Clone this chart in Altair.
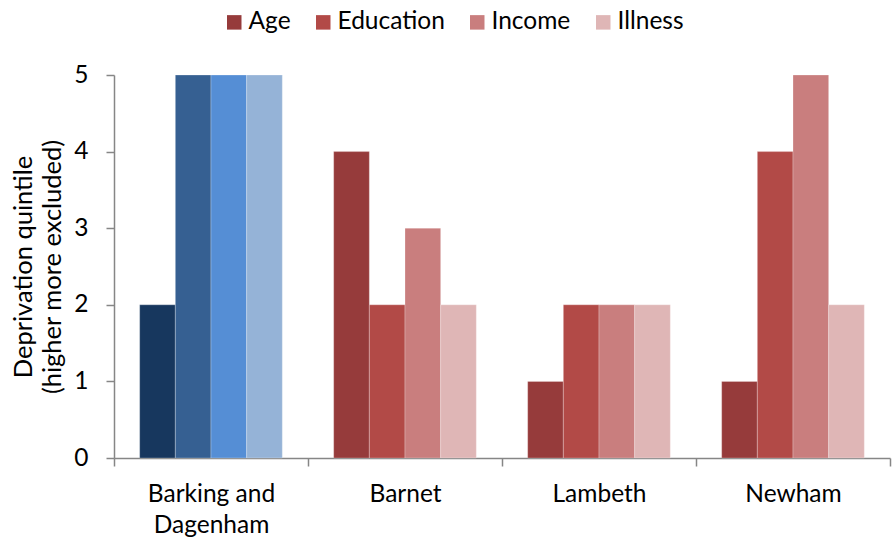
import altair as alt
import pandas as pd

boroughs = ["Barking and Dagenham", "Barnet", "Lambeth", "Newham"]
measures = ["Age", "Education", "Income", "Illness"]
age = [2, 4, 1, 1]
education = [5, 2, 2, 4]
income = [5, 3, 2, 5]
illness = [5, 2, 2, 2]

reds = ["#963B3B", "#B24A47", "#C97E7E", "#DFB6B6"]
blues = ["#17375E", "#366092", "#558ED5", "#95B3D7"]

rows = []
for i, b in enumerate(boroughs):
    for m, vals in zip(measures, [age, education, income, illness]):
        rows.append({"Borough": b, "Measure": m, "Value": vals[i]})
df = pd.DataFrame(rows)

FONT = "Lato"
AX = "#868686"
FS = 24.5

x_enc = alt.X(
    "Borough:N",
    sort=boroughs,
    scale=alt.Scale(paddingInner=0, paddingOuter=0),
    axis=alt.Axis(
        title=None,
        tickBand="extent",
        labelAngle=0,
        labelFontSize=FS,
        labelFont=FONT,
        labelColor="#000000",
        labelExpr="datum.value == 'Barking and Dagenham' ? ['Barking and', 'Dagenham'] : datum.value",
        labelLineHeight=31,
        labelPadding=16,
        tickSize=8,
        tickColor=AX,
        domainColor=AX,
        tickWidth=1.5,
        domainWidth=1.5,
        grid=False,
    ),
)
y_enc = alt.Y(
    "Value:Q",
    scale=alt.Scale(domain=[0, 5]),
    axis=alt.Axis(
        title=["Deprivation quintile", "(higher more excluded)"],
        titleFontSize=25.5,
        titleFont=FONT,
        titleFontWeight="normal",
        titleColor="#000000",
        titleLineHeight=29,
        titlePadding=8,
        values=[0, 1, 2, 3, 4, 5],
        labelFontSize=FS,
        labelFont=FONT,
        labelColor="#000000",
        labelPadding=18,
        tickSize=8,
        tickColor=AX,
        domainColor=AX,
        tickWidth=1.5,
        domainWidth=1.5,
        grid=False,
    ),
)
xo = alt.XOffset("Measure:N", sort=measures, scale=alt.Scale(paddingInner=0, paddingOuter=0.72))

base = alt.Chart(df)
others = base.transform_filter(alt.datum.Borough != "Barking and Dagenham").mark_bar(
    stroke="white", strokeWidth=0.5, strokeOpacity=0.5
).encode(
    x=x_enc,
    y=y_enc,
    xOffset=xo,
    color=alt.Color(
        "Measure:N",
        sort=measures,
        scale=alt.Scale(domain=measures, range=reds),
        legend=alt.Legend(
            title=None,
            orient="none",
            direction="horizontal",
            legendX=108,
            legendY=-65,
            symbolType="square",
            symbolSize=210,
            symbolStrokeWidth=0,
            labelFontSize=FS,
            labelFont=FONT,
            labelColor="#000000",
            labelOffset=2,
            columnPadding=20,
        ),
    ),
)
bark = base.transform_filter(alt.datum.Borough == "Barking and Dagenham").mark_bar(
    stroke="white", strokeWidth=0.5, strokeOpacity=0.5
).encode(
    x=x_enc,
    y=y_enc,
    xOffset=xo,
    color=alt.Color(
        "Measure:N",
        sort=measures,
        scale=alt.Scale(domain=measures, range=blues),
        legend=None,
    ),
)

chart = (
    alt.layer(bark, others)
    .resolve_scale(color="independent")
    .properties(
        width=776,
        height=383,
        autosize=alt.AutoSizeParams(type="none"),
        padding={"left": 114, "top": 75, "right": 2, "bottom": 82},
        background="white",
    )
    .configure_view(stroke=None)
)

chart.save("out.html", embed_options={"renderer": "svg", "actions": False})
